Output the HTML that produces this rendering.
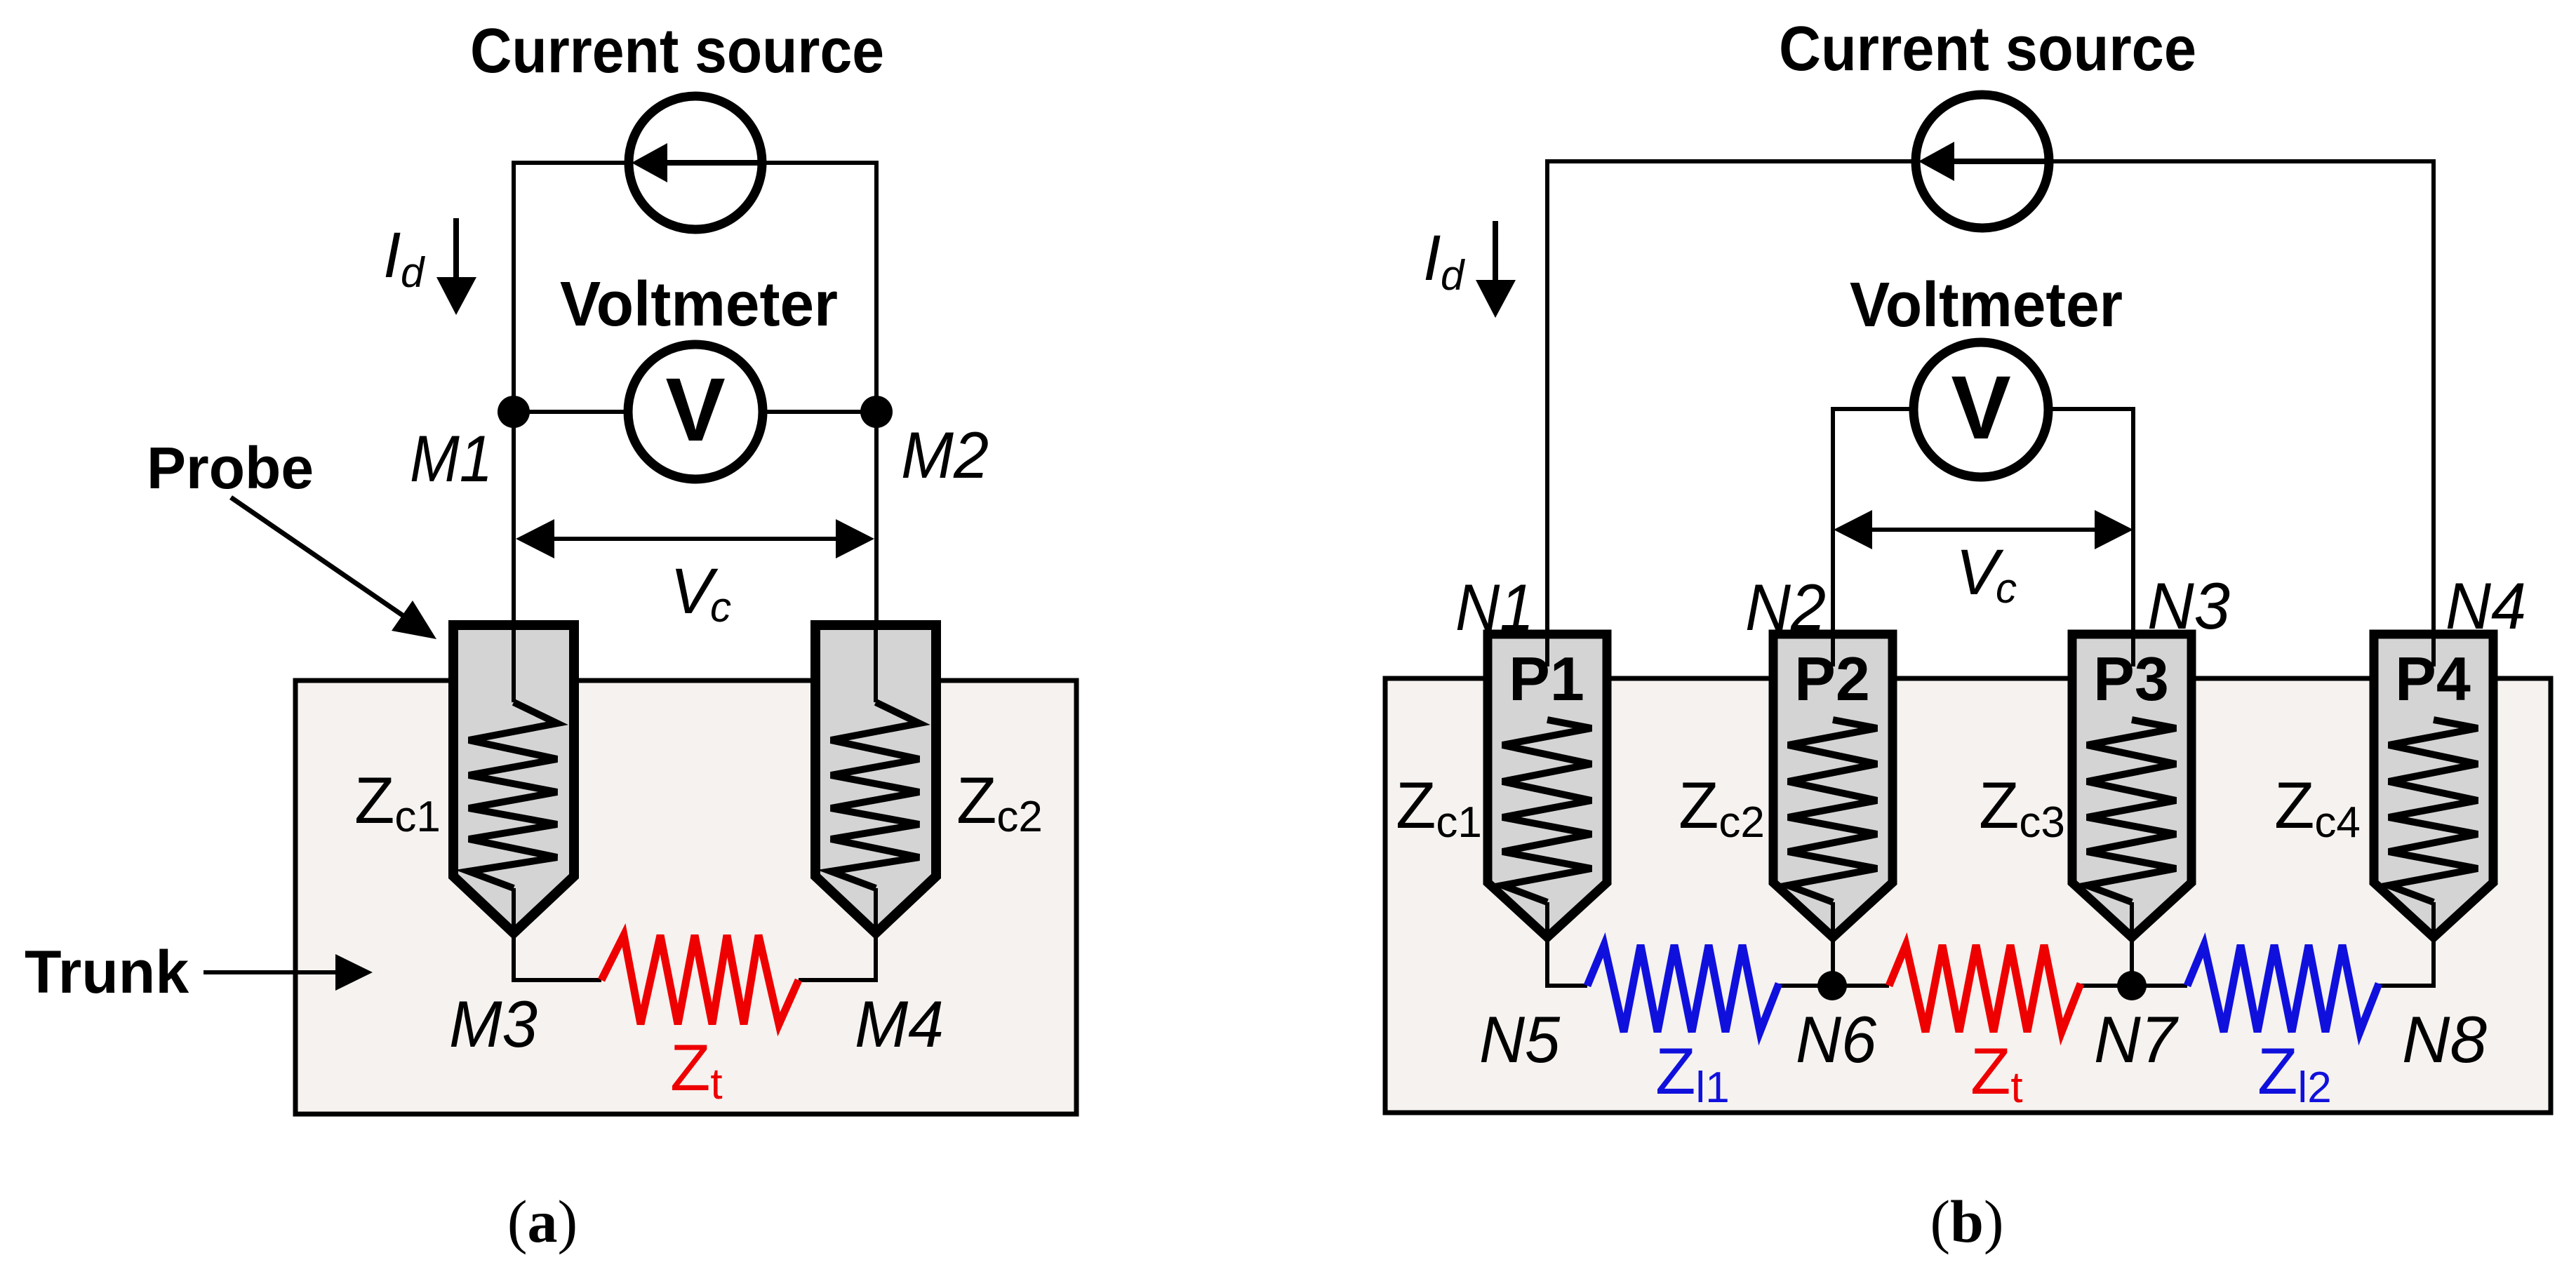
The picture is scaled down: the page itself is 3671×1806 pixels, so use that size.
<!DOCTYPE html>
<html><head><meta charset="utf-8"><style>
html,body{margin:0;padding:0;background:#fff;}
svg{display:block;}
text{font-family:"Liberation Sans",Arial,sans-serif;}
</style></head><body>
<svg width="3671" height="1806" viewBox="0 0 3671 1806" xmlns="http://www.w3.org/2000/svg">
<rect width="3671" height="1806" fill="#fff"/>

<!-- ============ PANEL A ============ -->
<rect x="421" y="970" width="1113" height="618" fill="#f5f2ef" stroke="#000" stroke-width="7"/>
<g stroke="#000" stroke-width="6" fill="none">
<polyline points="732,1001 732,232 1249,232 1249,1001"/>
<line x1="732" y1="587" x2="1249" y2="587"/>
</g>
<circle cx="991" cy="232" r="95" fill="#fff" stroke="#000" stroke-width="13"/>
<line x1="945" y1="232" x2="1085" y2="232" stroke="#000" stroke-width="8"/>
<polygon points="900,232 951,204 951,260" fill="#000"/>
<circle cx="991" cy="587" r="96" fill="#fff" stroke="#000" stroke-width="13"/>
<text x="991" y="628" font-size="128" font-weight="bold" text-anchor="middle">V</text>
<circle cx="732" cy="587" r="23" fill="#000"/>
<circle cx="1249" cy="587" r="23" fill="#000"/>
<line x1="780" y1="768" x2="1200" y2="768" stroke="#000" stroke-width="6"/>
<polygon points="735,768 790,740 790,796" fill="#000"/>
<polygon points="1246,768 1191,740 1191,796" fill="#000"/>
<line x1="650" y1="311" x2="650" y2="400" stroke="#000" stroke-width="8"/>
<polygon points="622,395 679,395 650,449" fill="#000"/>
<line x1="329" y1="709" x2="578" y2="880" stroke="#000" stroke-width="7"/>
<polygon points="622,911 558,899 588,856" fill="#000"/>
<line x1="290" y1="1386" x2="485" y2="1386" stroke="#000" stroke-width="6"/>
<polygon points="531,1386 478,1360 478,1412" fill="#000"/>
<g fill="#d4d4d4" stroke="#000" stroke-width="14" stroke-linejoin="miter">
<path d="M646,891 L818,891 L818,1249 L732,1330 L646,1249 Z"/>
<path d="M1162,891 L1334,891 L1334,1249 L1248,1330 L1162,1249 Z"/>
</g>
<g stroke="#000" stroke-width="6" fill="none">
<line x1="732" y1="884" x2="732" y2="1001"/>
<line x1="1248" y1="884" x2="1248" y2="1001"/>
<polyline points="732,1266 732,1397 857,1397"/>
<polyline points="1138,1397 1248,1397 1248,1266"/>
</g>
<g stroke="#000" stroke-width="10" fill="none" stroke-linejoin="miter">
<polyline points="732,1001 794,1031 668,1055 794,1082 668,1105 794,1129 668,1152 794,1175 668,1196 794,1222 668,1242 732,1266"/>
<polyline points="1248,1001 1310,1031 1184,1055 1310,1082 1184,1105 1310,1129 1184,1152 1310,1175 1184,1196 1310,1222 1184,1242 1248,1266"/>
</g>
<polyline points="857,1397 889,1333 913,1460 941,1333 966,1460 990,1333 1015,1460 1036,1333 1060,1460 1081,1333 1110,1460 1138,1397" stroke="#ee0000" stroke-width="11" fill="none"/>

<text x="670" y="103" font-size="90" font-weight="bold" textLength="590" lengthAdjust="spacingAndGlyphs">Current source</text>
<text x="798" y="464" font-size="90" font-weight="bold" textLength="396" lengthAdjust="spacingAndGlyphs">Voltmeter</text>
<text x="209" y="696" font-size="84" font-weight="bold">Probe</text>
<text x="35" y="1415" font-size="86" font-weight="bold">Trunk</text>
<text x="546" y="395" font-size="92" font-style="italic">I</text>
<text x="571" y="409" font-size="60" font-style="italic">d</text>
<text x="584" y="686" font-size="94" font-style="italic" textLength="118" lengthAdjust="spacingAndGlyphs">M1</text>
<text x="1284" y="681" font-size="94" font-style="italic" textLength="125" lengthAdjust="spacingAndGlyphs">M2</text>
<text x="640" y="1492" font-size="94" font-style="italic" textLength="126" lengthAdjust="spacingAndGlyphs">M3</text>
<text x="1218" y="1492" font-size="94" font-style="italic" textLength="127" lengthAdjust="spacingAndGlyphs">M4</text>
<text x="955" y="874" font-size="92" font-style="italic">V</text>
<text x="1012" y="886" font-size="60" font-style="italic">c</text>
<text x="505" y="1173" font-size="94">Z<tspan font-size="62" dy="12">c1</tspan></text>
<text x="1363" y="1173" font-size="94">Z<tspan font-size="62" dy="12">c2</tspan></text>
<text x="955" y="1554" font-size="94" fill="#ee0000">Z<tspan font-size="62" dy="12">t</tspan></text>
<text x="773" y="1770" font-size="86" text-anchor="middle" style="font-family:'Liberation Serif',serif">(<tspan font-weight="bold">a</tspan>)</text>

<!-- ============ PANEL B ============ -->
<rect x="1974" y="967" width="1661" height="619" fill="#f5f2ef" stroke="#000" stroke-width="7"/>
<g stroke="#000" stroke-width="6" fill="none">
<polyline points="2205,1026 2205,230 3468,230 3468,1026"/>
<polyline points="2612,1026 2612,583 3040,583 3040,1026"/>
</g>
<circle cx="2825" cy="230" r="95" fill="#fff" stroke="#000" stroke-width="13"/>
<line x1="2780" y1="230" x2="2919" y2="230" stroke="#000" stroke-width="8"/>
<polygon points="2734,230 2785,202 2785,258" fill="#000"/>
<circle cx="2823" cy="584" r="96" fill="#fff" stroke="#000" stroke-width="13"/>
<text x="2823" y="625" font-size="128" font-weight="bold" text-anchor="middle">V</text>
<line x1="2660" y1="755" x2="2995" y2="755" stroke="#000" stroke-width="6"/>
<polygon points="2613,755 2668,727 2668,783" fill="#000"/>
<polygon points="3040,755 2985,727 2985,783" fill="#000"/>
<line x1="2131" y1="315" x2="2131" y2="404" stroke="#000" stroke-width="8"/>
<polygon points="2103,399 2160,399 2131,453" fill="#000"/>
<g fill="#d4d4d4" stroke="#000" stroke-width="13">
<path d="M2120,904 L2290,904 L2290,1258 L2205,1336 L2120,1258 Z"/>
<path d="M2527,904 L2697,904 L2697,1258 L2612,1336 L2527,1258 Z"/>
<path d="M2953,904 L3123,904 L3123,1258 L3038,1336 L2953,1258 Z"/>
<path d="M3383,904 L3553,904 L3553,1258 L3468,1336 L3383,1258 Z"/>
</g>
<g stroke="#000" stroke-width="6" fill="none">
<line x1="2205" y1="898" x2="2205" y2="950"/>
<line x1="2612" y1="898" x2="2612" y2="950"/>
<line x1="3040" y1="898" x2="3040" y2="950"/>
<line x1="3468" y1="898" x2="3468" y2="950"/>
<polyline points="2205,1286 2205,1405 2262,1405"/>
<polyline points="2535,1405 2692,1405"/>
<line x1="2612" y1="1286" x2="2612" y2="1405"/>
<polyline points="2965,1405 3117,1405"/>
<line x1="3038" y1="1286" x2="3038" y2="1405"/>
<polyline points="3390,1405 3468,1405 3468,1286"/>
</g>
<g stroke="#000" stroke-width="10" fill="none">
<polyline points="2205,1026 2268,1038 2141,1062 2268,1089 2141,1114 2268,1141 2141,1165 2268,1189 2141,1214 2268,1238 2141,1262 2205,1286"/>
<polyline points="2612,1026 2675,1038 2548,1062 2675,1089 2548,1114 2675,1141 2548,1165 2675,1189 2548,1214 2675,1238 2548,1262 2612,1286"/>
<polyline points="3038,1026 3101,1038 2974,1062 3101,1089 2974,1114 3101,1141 2974,1165 3101,1189 2974,1214 3101,1238 2974,1262 3038,1286"/>
<polyline points="3468,1026 3531,1038 3404,1062 3531,1089 3404,1114 3531,1141 3404,1165 3531,1189 3404,1214 3531,1238 3404,1262 3468,1286"/>
</g>
<polyline points="2262,1405 2286,1347 2314,1471 2338,1347 2362,1471 2386,1347 2411,1471 2435,1347 2459,1471 2483,1347 2508,1471 2535,1402" stroke="#1010dd" stroke-width="11" fill="none"/>
<polyline points="2692,1405 2716,1347 2744,1471 2768,1347 2792,1471 2816,1347 2841,1471 2865,1347 2889,1471 2913,1347 2938,1471 2965,1402" stroke="#ee0000" stroke-width="11" fill="none"/>
<polyline points="3117,1405 3141,1347 3169,1471 3193,1347 3217,1471 3241,1347 3266,1471 3290,1347 3314,1471 3338,1347 3363,1471 3390,1402" stroke="#1010dd" stroke-width="11" fill="none"/>
<circle cx="2611" cy="1405" r="21" fill="#000"/>
<circle cx="3038" cy="1405" r="21" fill="#000"/>

<text x="2535" y="100" font-size="90" font-weight="bold" textLength="595" lengthAdjust="spacingAndGlyphs">Current source</text>
<text x="2636" y="465" font-size="90" font-weight="bold" textLength="389" lengthAdjust="spacingAndGlyphs">Voltmeter</text>
<text x="2028" y="399" font-size="92" font-style="italic">I</text>
<text x="2053" y="413" font-size="60" font-style="italic">d</text>
<text x="2787" y="847" font-size="92" font-style="italic">V</text>
<text x="2844" y="859" font-size="60" font-style="italic">c</text>
<g font-size="94" font-style="italic">
<text x="2074" y="898" textLength="112" lengthAdjust="spacingAndGlyphs">N1</text>
<text x="2487" y="898" textLength="115" lengthAdjust="spacingAndGlyphs">N2</text>
<text x="3060" y="896" textLength="118" lengthAdjust="spacingAndGlyphs">N3</text>
<text x="3485" y="896" textLength="115" lengthAdjust="spacingAndGlyphs">N4</text>
<text x="2108" y="1514" textLength="115" lengthAdjust="spacingAndGlyphs">N5</text>
<text x="2559" y="1514" textLength="115" lengthAdjust="spacingAndGlyphs">N6</text>
<text x="2984" y="1514" textLength="118" lengthAdjust="spacingAndGlyphs">N7</text>
<text x="3423" y="1514" textLength="121" lengthAdjust="spacingAndGlyphs">N8</text>
</g>
<g font-size="88" font-weight="bold" text-anchor="middle">
<text x="2204" y="998">P1</text>
<text x="2611" y="998">P2</text>
<text x="3037" y="998">P3</text>
<text x="3467" y="998">P4</text>
</g>
<text x="1989" y="1180" font-size="94">Z<tspan font-size="62" dy="13">c1</tspan></text>
<text x="2392" y="1180" font-size="94">Z<tspan font-size="62" dy="13">c2</tspan></text>
<text x="2820" y="1180" font-size="94">Z<tspan font-size="62" dy="13">c3</tspan></text>
<text x="3241" y="1180" font-size="94">Z<tspan font-size="62" dy="13">c4</tspan></text>
<text x="2359" y="1559" font-size="94" fill="#1010dd">Z<tspan font-size="62" dy="12">l1</tspan></text>
<text x="2808" y="1559" font-size="94" fill="#ee0000">Z<tspan font-size="62" dy="12">t</tspan></text>
<text x="3217" y="1559" font-size="94" fill="#1010dd">Z<tspan font-size="62" dy="12">l2</tspan></text>
<text x="2803" y="1770" font-size="86" text-anchor="middle" style="font-family:'Liberation Serif',serif">(<tspan font-weight="bold">b</tspan>)</text>
</svg>
</body></html>
